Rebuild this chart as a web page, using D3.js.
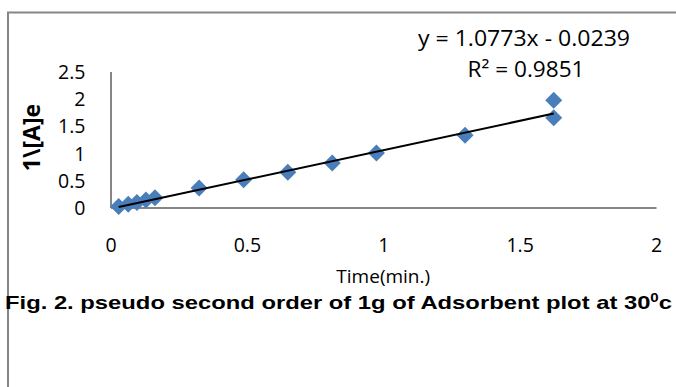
<!DOCTYPE html>
<html>
<head>
<meta charset="utf-8">
<script src="https://cdn.jsdelivr.net/npm/d3@7"></script>
<style>
  html, body { margin: 0; padding: 0; background: #fff; }
  svg { display: block; }
  .tick-lbl { font-family: "Open Sans", sans-serif; font-size: 19.5px; fill: #000; }
</style>
</head>
<body>
<svg id="chart" width="676" height="387"></svg>
<script>
'use strict';

// data
var timeMin = [0.03, 0.065, 0.097, 0.13, 0.163, 0.325, 0.488, 0.65, 0.813, 0.975, 1.3, 1.625, 1.625];
var invA    = [0.02, 0.06, 0.09, 0.14, 0.18, 0.36, 0.51, 0.65, 0.82, 1.0, 1.33, 1.65, 1.97];
var xTicks = [0, 0.5, 1, 1.5, 2];
var yTicks = [0, 0.5, 1, 1.5, 2, 2.5];
var trendSlope = 1.0773, trendIntercept = -0.0239;
var eqText = 'y = 1.0773x - 0.0239';
var r2Text = 'R\u00b2 = 0.9851';
var xTitle = 'Time(min.)';
var yTitle = '1\\[A]e';
var caption = 'Fig. 2. pseudo second order of 1g of Adsorbent plot at 30';

(function() {
  var svg = d3.select('#chart');
  var plot = {left: 110.5, right: 656, top: 71.5, bottom: 207.5};

  var x = d3.scaleLinear().domain([0, 2]).range([plot.left, plot.right]);
  var y = d3.scaleLinear().domain([0, 2.5]).range([plot.bottom, plot.top]);

  // outer chart frame (runs off the right and bottom edges)
  svg.append('rect')
    .attr('x', 8).attr('y', 12.5)
    .attr('width', 700).attr('height', 400)
    .attr('fill', 'none')
    .attr('stroke', '#868686')
    .attr('stroke-width', 2);

  // axes - plain lines, no tick marks
  var xAxis = d3.axisBottom(x).tickValues(xTicks).tickSize(0).tickPadding(0).tickFormat(d3.format('~g'));
  var yAxis = d3.axisLeft(y).tickValues(yTicks).tickSize(0).tickPadding(0).tickFormat(d3.format('~g'));

  var gx = svg.append('g').attr('transform', 'translate(0,' + plot.bottom + ')').call(xAxis);
  var gy = svg.append('g').attr('transform', 'translate(' + plot.left + ',0)').call(yAxis);

  [gx, gy].forEach(function(g) {
    g.select('.domain').attr('stroke', '#868686').attr('stroke-width', 2);
    g.selectAll('.tick text').attr('class', 'tick-lbl').attr('font-family', null).attr('font-size', null);
  });
  gx.selectAll('.tick text').attr('dy', null).attr('y', 44);
  gy.selectAll('.tick text').attr('dy', '0.36em').attr('x', -25);

  // markers
  var r = 8.5;
  var diamond = 'M0,' + (-r) + 'L' + r + ',0L0,' + r + 'L' + (-r) + ',0Z';
  svg.append('g').selectAll('path')
    .data(d3.range(timeMin.length))
    .join('path')
    .attr('d', diamond)
    .attr('transform', function(i) { return 'translate(' + x(timeMin[i]) + ',' + y(invA[i]) + ')'; })
    .attr('fill', '#4a7ebb');

  // linear trendline over the data range
  var x0 = d3.min(timeMin), x1 = d3.max(timeMin);
  svg.append('line')
    .attr('x1', x(x0)).attr('y1', y(trendSlope * x0 + trendIntercept))
    .attr('x2', x(x1)).attr('y2', y(trendSlope * x1 + trendIntercept))
    .attr('stroke', '#000').attr('stroke-width', 2);

  // trendline label (source picture is stretched sideways, hence textLength)
  var eqStyle = function(t) {
    t.attr('text-anchor', 'middle').attr('lengthAdjust', 'spacingAndGlyphs')
      .style('font-family', '"Open Sans", sans-serif').style('font-size', '21px');
  };
  svg.append('text').attr('x', 524).attr('y', 46).attr('textLength', 212).call(eqStyle).text(eqText);
  svg.append('text').attr('x', 526).attr('y', 77).attr('textLength', 117).call(eqStyle).text(r2Text);

  // axis titles
  svg.append('text')
    .attr('transform', 'translate(40,' + ((plot.top + plot.bottom) / 2 - 2) + ') rotate(-90)')
    .attr('text-anchor', 'middle')
    .style('font-family', '"Open Sans", sans-serif').style('font-size', '23px').style('font-weight', 'bold')
    .text(yTitle);

  svg.append('text')
    .attr('x', x(1)).attr('y', 283).attr('text-anchor', 'middle')
    .style('font-family', '"Open Sans", sans-serif').style('font-size', '19px')
    .text(xTitle);

  // figure caption
  var cap = svg.append('text')
    .attr('x', 5).attr('y', 309)
    .attr('textLength', 667).attr('lengthAdjust', 'spacingAndGlyphs')
    .style('font-family', '"Liberation Sans", Arial, sans-serif').style('font-size', '19px').style('font-weight', 'bold')
    .text(caption);
  cap.append('tspan').attr('dy', -7).style('font-size', '12px').text('0');
  cap.append('tspan').attr('dy', 7).text('c');
})();
</script>
</body>
</html>
